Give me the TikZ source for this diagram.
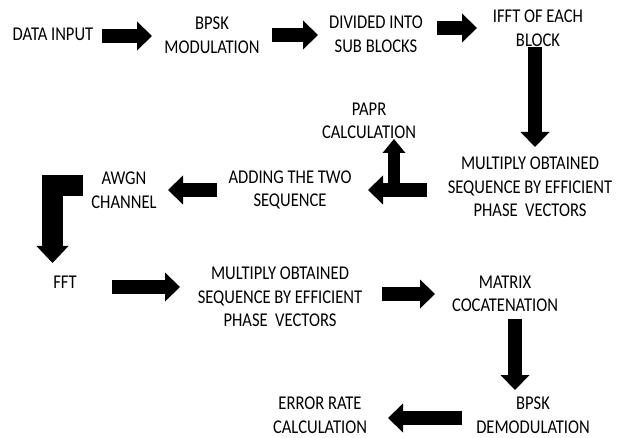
\documentclass[tikz,border=0pt]{standalone}
\usepackage{fontspec}
\setmainfont{Carlito}[FakeStretch=0.85]
\usetikzlibrary{arrows.meta,calc}

\begin{document}
\begin{tikzpicture}[x=1pt,y=-1pt,
  every node/.style={align=center,inner sep=0pt,font=\fontsize{19.5}{23.5}\selectfont},
  fat/.style={line width=14.5pt,-{Triangle[length=15pt,width=29pt,line width=0pt]}},
  fatT/.style={line width=12pt,-{Triangle[length=14pt,width=23pt,line width=0pt]}},
  fatL/.style={line width=21pt,line join=miter,-{Triangle[length=17pt,width=32pt,line width=0pt]}}]
\useasboundingbox (0,0) rectangle (618,438);
% blocks
\node (dat) at (53,34) {DATA INPUT};
\node (mod) at (212,35) {BPSK\\MODULATION};
\node (sub) at (376,34) {DIVIDED INTO\\SUB BLOCKS};
\node (ifft) at (538,28) {IFFT OF EACH\\BLOCK};
\node (mul) at (530,187) {MULTIPLY OBTAINED\\SEQUENCE BY EFFICIENT\\PHASE\ \ VECTORS};
\node (papr) at (369,121) {PAPR\\CALCULATION};
\node (add) at (290,190) {ADDING THE TWO\\SEQUENCE};
\node (awgn) at (124,190) {AWGN\\CHANNEL};
\node (fft) at (65,282) {FFT};
\node (mul2) at (280,297) {MULTIPLY OBTAINED\\SEQUENCE BY EFFICIENT\\PHASE\ \ VECTORS};
\node (mat) at (505,294) {MATRIX\\COCATENATION};
\node (demod) at (533,415) {BPSK\\DEMODULATION};
\node (err) at (320,415) {ERROR RATE\\CALCULATION};
% arrows
\draw[fat] ($(dat)+(49,2)$) -- ($(mod)+(-60,1)$);
\draw[fat] ($(mod)+(60,0)$) -- ($(sub)+(-58,1)$);
\draw[fat] ($(sub)+(61,-6)$) -- ($(ifft)+(-61,0)$);
\draw[fat] ($(ifft)+(-3,19)$) -- ($(mul)+(5,-40)$);
\draw[fat] ($(mul)+(-103,3)$) -- ($(add)+(78,0)$);
\coordinate (tee) at ($(add)+(104,0)$);
\draw[fatT] (tee) -- ($(papr)+(25,18)$);
\draw[fat] ($(add)+(-73,0)$) -- ($(awgn)+(44,0)$);
\draw[fatL] ($(awgn)+(-41,-4)$) -| ($(fft)+(-12.5,-19)$);
\draw[fat] ($(fft)+(47,5)$) -- ($(mul2)+(-100,-10)$);
\draw[fat] ($(mul2)+(102,-3)$) -- ($(mat)+(-70,0)$);
\draw[fat] ($(mat)+(10,25)$) -- ($(demod)+(-18,-25)$);
\draw[fat] ($(demod)+(-71,3)$) -- ($(err)+(68,3)$);
\end{tikzpicture}
\end{document}
